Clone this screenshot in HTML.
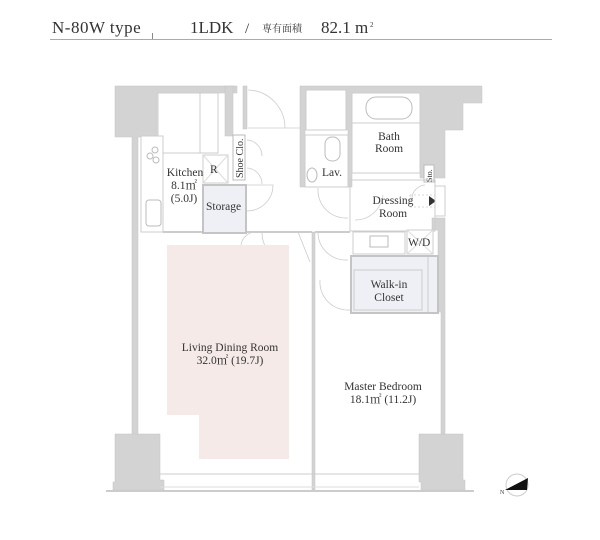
<!DOCTYPE html>
<html><head><meta charset="utf-8"><style>
html,body{margin:0;padding:0;background:#fff;width:600px;height:540px;overflow:hidden}
svg{display:block}
text{font-family:"Liberation Serif","Noto Serif CJK SC",serif;fill:#333}
</style></head><body>
<svg width="600" height="540" viewBox="0 0 600 540" xmlns="http://www.w3.org/2000/svg">
<text x="52" y="33" font-size="17" style="letter-spacing:0.5px">N-80W type</text>
<line x1="152.5" y1="33" x2="152.5" y2="40" stroke="#888" stroke-width="1"/>
<text x="190" y="33" font-size="17">1LDK</text>
<text x="245" y="33" font-size="15">/</text>
<text x="262" y="32" font-size="10" style="font-family:'Noto Serif CJK SC',serif">専有面積</text>
<text x="321" y="33" font-size="17">82.1 m</text>
<text x="370" y="27" font-size="7">2</text>
<line x1="50" y1="39.5" x2="552" y2="39.5" stroke="#aaa" stroke-width="1"/>

<g fill="#d3d3d3" stroke="#c4c4c4" stroke-width="0.5">
<polygon points="115,86 237,86 237,93 157,93 157,137 138,137 138,435 132,435 132,137 115,137"/>
<rect x="225" y="86" width="8" height="50"/>
<rect x="243" y="86" width="4" height="43"/>
<polygon points="300,86 482,86 482,103 463,103 463,130 445,130 445,178 420,178 420,93 352,93 352,187 348,187 348,130 305,130 305,187 300,187"/>
<polygon points="432,218 445,218 445,435 441,435 441,312 438,312 438,230 432,230"/>
<polygon points="115,434 160,434 160,480 164,480 164,490 113,490 113,482 115,482"/>
<polygon points="419,434 463,434 463,480 465,480 465,490 421,490 421,482 419,482"/>
<rect x="312" y="232" width="3" height="258"/>
</g>
<line x1="160" y1="474" x2="419" y2="474" stroke="#ccc" stroke-width="1"/>
<line x1="106" y1="491" x2="474" y2="491" stroke="#ccc" stroke-width="2"/>
<line x1="160" y1="487" x2="419" y2="487" stroke="#ddd" stroke-width="1"/>
<rect x="158" y="93" width="42" height="60" fill="#fff" stroke="#ccc"/>
<rect x="200" y="93" width="18" height="60" fill="#fff" stroke="#ccc"/>
<rect x="306" y="90" width="40" height="40" fill="#fff" stroke="#ccc"/>
<rect x="141" y="136" width="22" height="96" fill="#fff" stroke="#ccc"/>
<circle cx="155" cy="150" r="3" fill="none" stroke="#bbb"/>
<circle cx="150" cy="156" r="3" fill="none" stroke="#bbb"/>
<circle cx="156" cy="160" r="3" fill="none" stroke="#bbb"/>
<rect x="146" y="200" width="15" height="26" rx="3" fill="none" stroke="#bbb"/>
<line x1="163" y1="232" x2="312" y2="232" stroke="#ccc" stroke-width="2"/>
<line x1="315" y1="232" x2="350" y2="232" stroke="#ccc" stroke-width="2"/>
<rect x="203" y="155" width="25" height="28" fill="#fff" stroke="#ccc"/>
<line x1="203" y1="155" x2="228" y2="183" stroke="#ddd"/><line x1="228" y1="155" x2="203" y2="183" stroke="#ddd"/>
<text x="210" y="173" font-size="11.5">R</text>
<rect x="203" y="185" width="43" height="48" fill="#eef0f5" stroke="#c4c4c4" stroke-width="2"/>
<text x="206" y="210" font-size="11.5">Storage</text>
<rect x="233" y="135" width="12" height="45" fill="#fff" stroke="#bbb"/>
<text transform="translate(243,178) rotate(-90)" font-size="10">Shoe Clo.</text>
<g fill="none" stroke="#ccc" stroke-width="0.8">
<path d="M248,90 A38,38 0 0 1 285,128"/>
<line x1="248" y1="128" x2="300" y2="128"/>
<path d="M247,185 L273,185 A26,26 0 0 1 247,211"/>
<path d="M247,140 A16,16 0 0 1 262,156"/>
<path d="M247,168 A16,16 0 0 1 262,184"/>
<path d="M318,188 A28,28 0 0 0 348,218"/>
<path d="M355,220 A28,28 0 0 0 383,195"/>
<path d="M389,173 A28,28 0 0 1 418,148"/>
<path d="M241,245 A15,15 0 0 1 256,232"/>
<path d="M262,232 A30,30 0 0 0 285,262"/>
<path d="M298,232 L310,262"/>
<path d="M318,232 A28,28 0 0 0 348,260"/>
<path d="M320,280 A28,28 0 0 0 350,310"/>
<path d="M425,185 A14,14 0 0 0 412,198"/>
<rect x="410" y="195" width="25" height="12" stroke-dasharray="2,2"/>
</g>
<rect x="305" y="135" width="43" height="52" fill="#fff" stroke="#ccc"/>
<rect x="325" y="137" width="15" height="24" rx="7" fill="none" stroke="#bbb"/>
<ellipse cx="312" cy="175" rx="5" ry="7" fill="none" stroke="#bbb"/>
<text x="322" y="176" font-size="11.5">Lav.</text>
<rect x="352" y="93" width="68" height="80" fill="#fff" stroke="#ccc"/>
<rect x="366" y="97" width="46" height="22" rx="10" fill="none" stroke="#bbb"/>
<line x1="352" y1="123" x2="420" y2="123" stroke="#ccc"/>
<text x="389" y="140" font-size="11.5" text-anchor="middle">Bath</text>
<text x="389" y="152" font-size="11.5" text-anchor="middle">Room</text>
<rect x="424" y="165" width="10" height="17" fill="#fff" stroke="#bbb"/>
<text transform="translate(432,182) rotate(-90)" font-size="8">Sto.</text>
<rect x="350" y="180" width="85" height="51" fill="none" stroke="#ccc"/>
<text x="393" y="204" font-size="11.5" text-anchor="middle">Dressing</text>
<text x="393" y="217" font-size="11.5" text-anchor="middle">Room</text>
<polygon points="429,196 436,201 429,206" fill="#333"/>
<rect x="435" y="186" width="10" height="30" fill="#fff" stroke="#ccc"/>
<rect x="353" y="232" width="52" height="22" fill="#fff" stroke="#ccc"/>
<rect x="370" y="236" width="18" height="11" fill="none" stroke="#bbb"/>
<rect x="407" y="230" width="26" height="24" fill="#fff" stroke="#ccc"/>
<line x1="407" y1="230" x2="433" y2="254" stroke="#ddd"/><line x1="433" y1="230" x2="407" y2="254" stroke="#ddd"/>
<text x="408" y="246" font-size="11.5">W/D</text>
<rect x="351" y="256" width="87" height="57" fill="#eef0f5" stroke="#c4c4c4" stroke-width="2"/>
<rect x="354" y="270" width="68" height="40" fill="none" stroke="#ccc"/>
<line x1="428" y1="257" x2="428" y2="312" stroke="#ccc"/>
<text x="389" y="288" font-size="11.5" text-anchor="middle">Walk-in</text>
<text x="389" y="301" font-size="11.5" text-anchor="middle">Closet</text>
<polygon points="167,245 289,245 289,459 199,459 199,415 167,415" fill="#f5eae8"/>
<text x="185" y="176" font-size="11.5" text-anchor="middle">Kitchen</text>
<text x="184" y="189" font-size="11.5" text-anchor="middle">8.1㎡</text>
<text x="184" y="202" font-size="11.5" text-anchor="middle">(5.0J)</text>
<text x="230" y="351" font-size="11.5" text-anchor="middle">Living Dining Room</text>
<text x="230" y="364" font-size="11.5" text-anchor="middle">32.0㎡ (19.7J)</text>
<text x="383" y="390" font-size="11.5" text-anchor="middle">Master Bedroom</text>
<text x="383" y="403" font-size="11.5" text-anchor="middle">18.1㎡ (11.2J)</text>
<circle cx="517" cy="485" r="11" fill="#fff" stroke="#ccc"/>
<polygon points="505,490 528,478 527,490" fill="#111"/>
<text x="500" y="494" font-size="6">N</text>
</svg>
</body></html>
